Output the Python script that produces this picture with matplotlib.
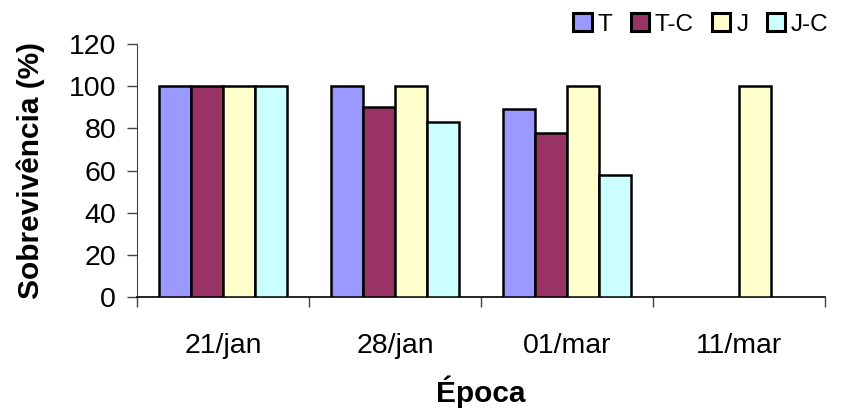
import numpy as np
import matplotlib
matplotlib.use('Agg')
from matplotlib import pyplot as plt

plt.rcParams['font.family'] = ['Liberation Sans', 'DejaVu Sans']

epocas = ['21/jan', '28/jan', '01/mar', '11/mar']
series = ['T', 'T-C', 'J', 'J-C']
T = [100, 100, 89, 0]
T_C = [100, 90, 78, 0]
J = [100, 100, 100, 100]
J_C = [100, 83, 58, 0]
cores = ['#9999FF', '#993366', '#FFFFCC', '#CCFFFF']

fig = plt.figure(figsize=(8.42, 4.09), dpi=100)
ax = fig.add_axes([0.1627, 0.2738, 0.8173, 0.6186])

x = np.arange(len(epocas))
w = 0.186
for i, (nome, vals, cor) in enumerate(zip(series, [T, T_C, J, J_C], cores)):
    vals = np.array(vals, dtype=float)
    # bars with value 0 are simply not drawn
    mask = vals > 0
    ax.bar(x[mask] + (i - 1.5) * w, vals[mask], width=w, color=cor,
           edgecolor='black', linewidth=1.8, label=nome, zorder=3)

ax.set_xlim(-0.5, 3.5)
ax.set_ylim(0, 120)
ax.set_yticks(range(0, 121, 20))
ax.set_xticks(x)
ax.set_xticklabels(epocas)
ax.set_xticks(np.arange(-0.5, 4, 1), minor=True)
ax.tick_params(axis='x', which='major', length=0, pad=26, labelsize=20.5)
ax.tick_params(axis='x', which='minor', length=7, width=1, color='#444444')
ax.tick_params(axis='y', length=7, width=1, color='#444444', labelsize=20.5, pad=8)

for s in ['top', 'right']:
    ax.spines[s].set_visible(False)
ax.spines['left'].set_color('#444444')
ax.spines['bottom'].set_color('black')
ax.spines['bottom'].set_linewidth(1.2)

ax.set_ylabel('Sobrevivência (%)', fontsize=21.5, fontweight='bold', labelpad=17)
ax.set_xlabel('Época', fontsize=21.5, fontweight='bold', labelpad=12)

leg = fig.legend(loc='upper right', bbox_to_anchor=(1.0, 1.0), ncol=4,
                 frameon=False, fontsize=17.5, handlelength=0.75, handleheight=0.75,
                 handletextpad=0.25, columnspacing=0.75, borderaxespad=0.15)
for h in leg.legend_handles:
    h.set_linewidth(2.2)

fig.savefig('out.png', dpi=100)
